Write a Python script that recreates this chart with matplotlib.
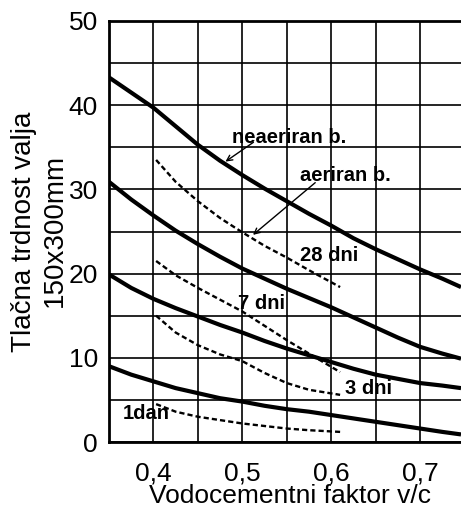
# import necessary libraries
import matplotlib.pyplot as plt

plt.rcParams['font.family'] = 'Liberation Sans'

# water/cement ratio points and strengths (MPa)
# solid curves = non air-entrained concrete
vc_solid = [0.35, 0.375, 0.40, 0.425, 0.45, 0.475, 0.50, 0.525, 0.55,
            0.575, 0.60, 0.625, 0.65, 0.675, 0.70, 0.725, 0.746]
solid_28 = [43.3, 41.5, 39.7, 37.5, 35.3, 33.4, 31.7, 30.1, 28.6,
            27.1, 25.7, 24.2, 22.9, 21.7, 20.5, 19.4, 18.4]
solid_7 = [30.9, 28.8, 26.9, 25.1, 23.5, 22.0, 20.6, 19.4, 18.2,
           17.1, 16.0, 14.8, 13.6, 12.4, 11.3, 10.5, 9.9]
solid_3 = [19.9, 18.3, 17.0, 15.9, 14.9, 13.9, 13.0, 12.0, 11.1,
           10.3, 9.5, 8.7, 8.0, 7.5, 7.0, 6.7, 6.4]
solid_1 = [9.0, 8.0, 7.2, 6.4, 5.8, 5.2, 4.8, 4.3, 3.9,
           3.6, 3.2, 2.8, 2.4, 2.0, 1.6, 1.2, 0.9]

# dashed curves = air-entrained concrete
vc_dashed = [0.403, 0.425, 0.45, 0.475, 0.50, 0.525, 0.55, 0.575, 0.61]
dashed_28 = [33.5, 30.9, 28.6, 26.6, 24.9, 23.3, 21.9, 20.4, 18.4]
dashed_7 = [21.5, 19.8, 18.3, 16.9, 15.5, 13.8, 12.1, 10.5, 8.3]
dashed_3 = [15.0, 13.0, 11.5, 10.4, 9.6, 8.2, 7.0, 6.2, 5.6]
dashed_1 = [4.5, 3.6, 3.0, 2.6, 2.2, 1.9, 1.6, 1.4, 1.2]

x_ticks = [0.4, 0.5, 0.6, 0.7]
x_tick_labels = ['0,4', '0,5', '0,6', '0,7']
y_ticks = [0, 10, 20, 30, 40, 50]

fig = plt.figure(figsize=(4.61, 5.13), dpi=100)
ax = fig.add_axes([109 / 461, 1 - 442 / 513, 352 / 461, 421 / 513])

for ys in [solid_28, solid_7, solid_3, solid_1]:
    ax.plot(vc_solid, ys, color='black', lw=3, solid_capstyle='butt')
for ys in [dashed_28, dashed_7, dashed_3, dashed_1]:
    ax.plot(vc_dashed, ys, color='black', lw=1.7, linestyle=(0, (2.2, 1.3)))

ax.set_xlim(0.35, 0.746)
ax.set_ylim(0, 50)
ax.set_xticks(x_ticks)
ax.set_xticklabels(x_tick_labels, fontsize=19)
ax.set_xticks([0.45, 0.55, 0.65], minor=True)
ax.set_yticks(y_ticks)
ax.set_yticklabels([str(v) for v in y_ticks], fontsize=19)
ax.set_yticks([5, 15, 25, 35, 45], minor=True)
ax.tick_params(axis='both', which='both', length=0)
ax.tick_params(axis='x', pad=14)
ax.tick_params(axis='y', pad=8)
ax.grid(True, which='both', color='black', lw=1.2)
ax.set_axisbelow(True)

for side in ['left', 'bottom', 'top']:
    ax.spines[side].set_linewidth(2)
ax.spines['right'].set_visible(False)

# curve labels
lbl = dict(fontsize=14.5, fontweight='bold', va='center')
ax.text(0.488, 36.2, 'neaeriran b.', **lbl)
ax.text(0.565, 31.7, 'aeriran b.', **lbl)
ax.text(0.565, 22.2, '28 dni', **lbl)
ax.text(0.495, 16.5, '7 dni', **lbl)
ax.text(0.616, 6.4, '3 dni', **lbl)
ax.text(0.366, 3.4, '1dan', **lbl)

arrow = dict(arrowstyle='->', lw=1, color='black', shrinkA=0, shrinkB=0)
ax.annotate('', xy=(0.481, 33.3), xytext=(0.5125, 35.6), arrowprops=arrow)
ax.annotate('', xy=(0.512, 24.6), xytext=(0.582, 30.8), arrowprops=arrow)

# axis titles
fig.text(24 / 461, 1 - 232 / 513, 'Tlačna trdnost valja', rotation=90,
         fontsize=20, ha='center', va='center')
fig.text(55 / 461, 1 - 230 / 513, '150x300mm', rotation=90,
         fontsize=20, ha='center', va='center')
fig.text(290 / 461, 1 - 496 / 513, 'Vodocementni faktor v/c',
         fontsize=19, ha='center', va='center')

plt.savefig('out.png', dpi=100)
